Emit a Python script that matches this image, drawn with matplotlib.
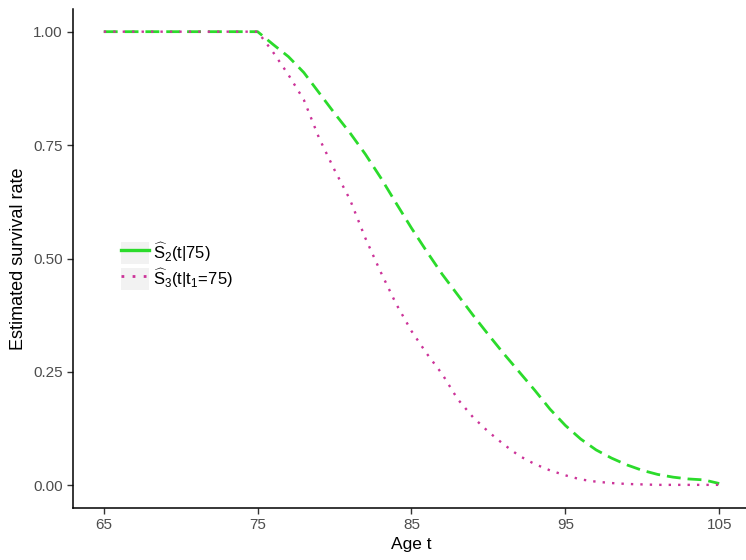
import matplotlib
matplotlib.use("Agg")
import matplotlib.pyplot as plt
from matplotlib.patches import Patch
from matplotlib.lines import Line2D

# ages and estimated survival
ages = list(range(65, 106))
s2_cond = [1.0] * 11 + [0.972, 0.945, 0.91, 0.865, 0.82, 0.777, 0.73, 0.678, 0.622, 0.567,
                        0.515, 0.465, 0.42, 0.375, 0.332, 0.29, 0.25, 0.21, 0.168, 0.132,
                        0.102, 0.078, 0.06, 0.045, 0.033, 0.024, 0.018, 0.014, 0.012, 0.004]
s3_cond = [1.0] * 11 + [0.955, 0.905, 0.85, 0.765, 0.695, 0.63, 0.545, 0.47, 0.40, 0.34,
                        0.29, 0.245, 0.19, 0.15, 0.118, 0.09, 0.065, 0.047, 0.033, 0.022,
                        0.013, 0.008, 0.005, 0.003, 0.002, 0.001, 0.001, 0.001, 0.001, 0.001]
x_ticks = [65, 75, 85, 95, 105]
y_ticks = [0.0, 0.25, 0.5, 0.75, 1.0]

green = "#2BDB2B"
pink = "#CC3399"

plt.rcParams["font.family"] = ["Liberation Sans", "DejaVu Sans"]
plt.rcParams["mathtext.fontset"] = "custom"
plt.rcParams["mathtext.rm"] = "Liberation Sans"
plt.rcParams["mathtext.it"] = "Liberation Sans"

fig = plt.figure(figsize=(7.46, 5.6), dpi=100)
ax = fig.add_axes([73 / 746, 52 / 560, 677 / 746, 499 / 560])

ax.plot(ages, s2_cond, color=green, lw=2.0, ls=(0, (5, 2.5)))
ax.plot(ages, s3_cond, color=pink, lw=1.7, ls=(0, (1, 3)))

ax.set_xlim(63, 107)
ax.set_ylim(-0.05, 1.05)
ax.set_xticks(x_ticks)
ax.set_yticks(y_ticks)
ax.set_yticklabels(["%.2f" % v for v in y_ticks])
ax.tick_params(colors="#4D4D4D", labelsize=11, length=4, width=1)
ax.tick_params(axis="both", color="#333333")
for side in ["top", "right"]:
    ax.spines[side].set_visible(False)
for side in ["left", "bottom"]:
    ax.spines[side].set_linewidth(1.1)
ax.set_xlabel("Age t", fontsize=12.5, labelpad=3)
ax.set_ylabel("Estimated survival rate", fontsize=13, labelpad=4)

handles = [
    (Patch(facecolor="#F2F2F2", edgecolor="none"), Line2D([], [], color=green, lw=2.4)),
    (Patch(facecolor="#F2F2F2", edgecolor="none"), Line2D([], [], color=pink, lw=2, ls=(0, (1, 3)))),
]
labels = [r"$\widehat{\mathrm{S}}_2\mathrm{(t|75)}$", r"$\widehat{\mathrm{S}}_3\mathrm{(t|t_1\!=\!75)}$"]
fig.legend(handles, labels, loc="upper left", bbox_to_anchor=(121 / 746, 1 - 240 / 560),
           bbox_transform=fig.transFigure, frameon=False, fontsize=12,
           handlelength=1.65, handleheight=1.65, handletextpad=0.25, labelspacing=0.12,
           borderpad=0, borderaxespad=0)

fig.savefig("out.png", dpi=100)
